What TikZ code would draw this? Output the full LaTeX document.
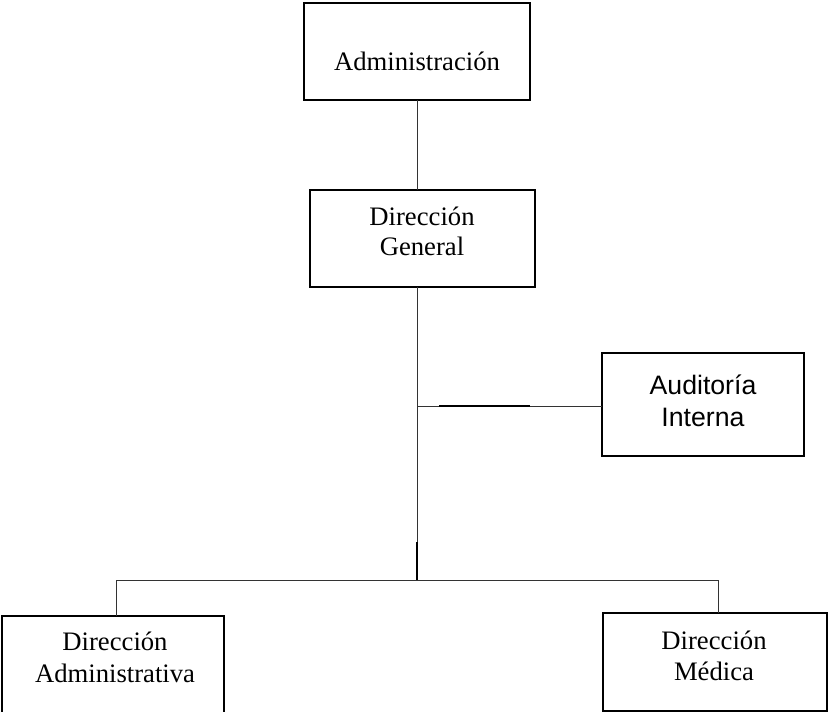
\documentclass[tikz,border=0pt]{standalone}
\usepackage{fontspec}
\setmainfont{Liberation Serif}
\newfontfamily\arialfont{Liberation Sans}
\begin{document}
\begin{tikzpicture}[x=0.75pt,y=-0.75pt,
  unitbox/.style={draw=black,line width=1.3pt,inner sep=0pt,outer sep=0pt,rectangle},
  boxtext/.style={anchor=base,inner sep=0pt,font=\fontsize{20}{23}\selectfont},
  boxtextsans/.style={boxtext,font=\arialfont\fontsize{20}{23}\selectfont},
  link/.style={draw=black!80,line width=0.7pt},
  heavy/.style={draw=black,line width=1.6pt}]
\useasboundingbox (0,0) rectangle (828,712);

% organisation boxes
\node[unitbox,minimum width=169.5pt,minimum height=72.75pt] (adm) at (417,51.5) {};
\node[unitbox,minimum width=168.75pt,minimum height=72.75pt] (dg) at (422.5,238.5) {};
\node[unitbox,minimum width=151.5pt,minimum height=77.25pt] (aud) at (703,404.5) {};
\node[unitbox,minimum width=166.5pt,minimum height=78pt] (da) at (113,668) {};
\node[unitbox,minimum width=168pt,minimum height=73.5pt] (dm) at (715,662) {};

% labels
\node[boxtext] (admT) at (417,70.5) {Administración};
\node[boxtext] (dgT1) at (422,226) {Dirección};
\node[boxtext] (dgT2) at (422,256) {General};
\node[boxtextsans] (audT1) at (703,395) {Auditoría};
\node[boxtextsans] (audT2) at (703,427) {Interna};
\node[boxtext] (daT1) at (115,650) {Dirección};
\node[boxtext] (daT2) at (115,682) {Administrativa};
\node[boxtext] (dmT1) at (714,649) {Dirección};
\node[boxtext] (dmT2) at (714,680) {Médica};

% junction points of the tree
\coordinate (top) at (417,287);
\coordinate (tee) at (417,406);
\coordinate (heavyA) at (439,406);
\coordinate (heavyB) at (530,406);
\coordinate (drop) at (417,542);
\coordinate (bus) at (417,580);
\coordinate (busL) at (da.north -| 116,0);
\coordinate (busR) at (dm.north -| 718,0);

% connectors
\draw[link] (adm.south -| top) -- (dg.north -| top);
\draw[link] (top) -- (drop);
\draw[heavy] (drop) -- (bus);
\draw[link] (tee) -- (tee -| aud.west);
\draw[heavy] (heavyA) -- (heavyB);
\draw[link] (busL |- bus) -- (busR |- bus);
\draw[link] (busL |- bus) -- (busL);
\draw[link] (busR |- bus) -- (busR);
\end{tikzpicture}
\end{document}
